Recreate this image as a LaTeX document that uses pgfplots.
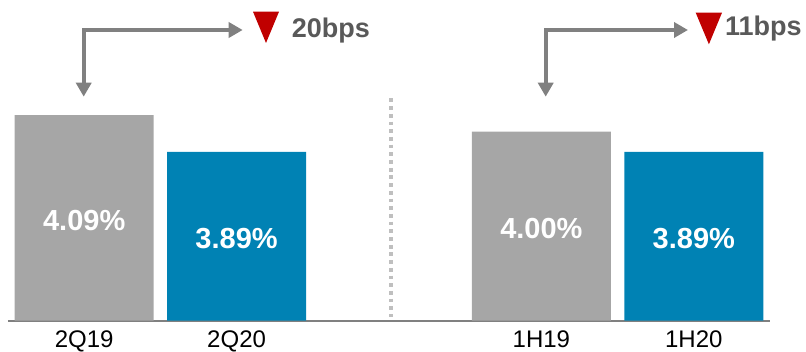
\documentclass[border=0pt]{standalone}
\usepackage{fontspec}
\setmainfont{Liberation Sans}
\usepackage{pgfplots}
\pgfplotsset{compat=1.18}
\usetikzlibrary{arrows.meta}
\definecolor{bargray}{HTML}{A6A6A6}
\definecolor{barblue}{HTML}{0082B4}
\definecolor{arrgray}{HTML}{808080}
\definecolor{txtgray}{HTML}{595959}
\definecolor{trired}{HTML}{C00000}
\definecolor{sepgray}{HTML}{BFBFBF}
\begin{document}
\begin{tikzpicture}[x=1pt,y=1pt]
\useasboundingbox (0,0) rectangle (806,351);
\begin{axis}[
  at={(8pt,30.3pt)}, anchor=south west,
  x=152.4pt, y=183.5pt,
  xmin=-0.5, xmax=4.5, ymin=2.97, ymax=4.72,
  axis x line=bottom, axis y line=none,
  axis line style={-, draw=arrgray, line width=1.7pt},
  xtick={0,1,3,4}, xticklabels={2Q19,2Q20,1H19,1H20},
  major tick length=0pt,
  xticklabel style={font=\fontsize{24}{28}\selectfont, text=black, inner sep=0pt, anchor=north, yshift=-9.5pt},
  ybar, bar width=139pt, bar shift=0pt,
  visualization depends on={y \as \rawy},
  nodes near coords={\pgfmathprintnumber[fixed,fixed zerofill,precision=2,assume math mode=true]{\pgfplotspointmeta}\%},
  every node near coord/.append style={font=\bfseries\fontsize{29}{33}\selectfont, text=white, anchor=center, yshift={-(\rawy-2.97)*91.75pt-2.5pt}},
]
\addplot[fill=bargray, draw=none] coordinates {(0,4.09) (3,4.00)};
\addplot[fill=barblue, draw=none] coordinates {(1,3.89) (4,3.89)};
\end{axis}
% separator
\draw[sepgray, line width=3.8pt, dash pattern=on 3.8pt off 3.9pt] (391,252.5) -- (391,34);
% arrows
\draw[arrgray, line width=4.3pt, line join=miter, {Triangle[width=15pt,length=14pt]}-{Triangle[width=15pt,length=14pt]}] (83.7,254.3) -- (83.7,321) -- (242.7,321);
\draw[arrgray, line width=4.3pt, line join=miter, {Triangle[width=15pt,length=14pt]}-{Triangle[width=15pt,length=14pt]}] (545.7,254.3) -- (545.7,321) -- (688,321);
% triangles
\fill[trired] (253,339.3) -- (279,339.3) -- (266,308) -- cycle;
\fill[trired] (695.7,338.3) -- (722,338.3) -- (708.9,306.7) -- cycle;
\node[anchor=base west, inner sep=0pt, text=txtgray, font=\bfseries\fontsize{27}{31}\selectfont] at (291.7,313.7) {20bps};
\node[anchor=base west, inner sep=0pt, text=txtgray, font=\bfseries\fontsize{27}{31}\selectfont] at (725,315) {11bps};
\end{tikzpicture}
\end{document}
